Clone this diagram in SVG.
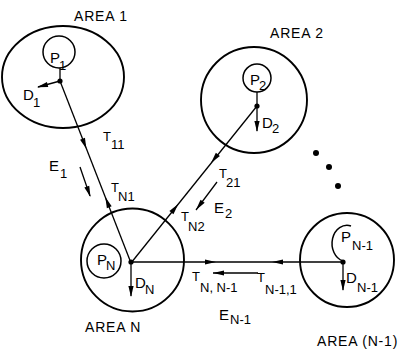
<svg xmlns="http://www.w3.org/2000/svg" xmlns:xlink="http://www.w3.org/1999/xlink" width="400" height="349" viewBox="0 0 400 349">
<style>
.area{fill:none;stroke:#000;stroke-width:1.9}
.sm{fill:none;stroke:#000;stroke-width:1.5}
.ln{fill:none;stroke:#000;stroke-width:1.3}
.dot{fill:#000}
text{font-family:"Liberation Sans","DejaVu Sans",Arial,sans-serif;fill:#000}
.lab{font-size:15px}
.big{font-size:14px;letter-spacing:0.8px}
.t{font-size:13px}
.s{font-size:13px}
</style>
<defs>
<path id="ah" d="M0,0 L-11,-2.6 L-11,2.6 Z" fill="#000"/>
</defs>
<rect width="400" height="349" fill="#fff"/>
<g id="connectors">
<line class="ln" x1="60" y1="81" x2="131" y2="263"/>
<use xlink:href="#ah" transform="translate(86.5,149) rotate(68.7)"/>
<use xlink:href="#ah" transform="translate(105.3,197) rotate(248.7)"/>
<line class="ln" x1="131" y1="263" x2="257" y2="106"/>
<use xlink:href="#ah" transform="translate(178.3,204) rotate(-51.3)"/>
<use xlink:href="#ah" transform="translate(211,163) rotate(128.7)"/>
<line class="ln" x1="131" y1="262" x2="343" y2="262"/>
<use xlink:href="#ah" transform="translate(216,262) rotate(0)"/>
<use xlink:href="#ah" transform="translate(272,262) rotate(180)"/>
<line class="ln" x1="80" y1="167" x2="90" y2="196"/>
<use xlink:href="#ah" transform="translate(90.5,197) rotate(70.3)"/>
<line class="ln" x1="217" y1="182" x2="196" y2="210"/>
<use xlink:href="#ah" transform="translate(196,210) rotate(126.9)"/>
<line class="ln" x1="258" y1="273" x2="213" y2="273"/>
<use xlink:href="#ah" transform="translate(213,273) rotate(180)"/>
</g>
<g id="area1">
<ellipse class="area" cx="63" cy="77" rx="61" ry="51"/>
<circle class="sm" cx="59" cy="52" r="16"/>
<line class="ln" x1="60" y1="68" x2="60" y2="81"/>
<circle class="dot" cx="60" cy="81" r="2.6"/>
<line class="ln" x1="60" y1="81" x2="38" y2="87"/>
<use xlink:href="#ah" transform="translate(37,87.3) rotate(164.7)"/>
<text class="lab" x="50" y="63">P</text><text class="s" x="59" y="70">1</text>
<text class="lab" x="23" y="100">D</text><text class="s" x="33" y="107">1</text>
<text class="big" x="74" y="21">AREA 1</text>
<text class="t" x="103" y="141">T</text><text class="s" x="111" y="149">11</text>
<text class="lab" x="49" y="171">E</text><text class="s" x="60" y="178">1</text>
<text class="t" x="111" y="192">T</text><text class="s" x="118" y="201">N1</text>
</g>
<g id="area2">
<circle class="area" cx="254" cy="100" r="53"/>
<circle class="sm" cx="257" cy="78" r="14"/>
<line class="ln" x1="257" y1="92" x2="257" y2="106"/>
<circle class="dot" cx="257" cy="106" r="2.6"/>
<line class="ln" x1="257" y1="106" x2="257" y2="131"/>
<use xlink:href="#ah" transform="translate(257,132) rotate(90)"/>
<text class="lab" x="250" y="85">P</text><text class="s" x="259" y="90">2</text>
<text class="lab" x="262" y="128">D</text><text class="s" x="272" y="133">2</text>
<text class="big" x="270" y="38">AREA 2</text>
<text class="t" x="219" y="178">T</text><text class="s" x="226" y="187">21</text>
<text class="lab" x="214" y="213">E</text><text class="s" x="225" y="218">2</text>
<text class="t" x="181" y="221">T</text><text class="s" x="188" y="231">N2</text>
</g>
<g id="areaN">
<circle class="area" cx="132.5" cy="260" r="51.5"/>
<circle class="sm" cx="104" cy="261" r="17"/>
<circle class="dot" cx="131" cy="262" r="2.6"/>
<line class="ln" x1="131" y1="262" x2="131" y2="296"/>
<use xlink:href="#ah" transform="translate(131,297) rotate(90)"/>
<text class="lab" x="97" y="265">P</text><text class="s" x="106" y="270">N</text>
<text class="lab" x="135" y="288">D</text><text class="s" x="145" y="294">N</text>
<text class="big" x="85" y="332">AREA N</text>
<text class="t" x="192" y="281">T</text><text class="s" x="200" y="292">N, N-1</text>
<text class="t" x="257" y="282">T</text><text class="s" x="265" y="294">N-1,1</text>
<text class="lab" x="219" y="320">E</text><text class="s" x="230" y="324">N-1</text>
</g>
<g id="ellipsis">
<circle class="dot" cx="316" cy="153" r="3"/>
<circle class="dot" cx="329" cy="167" r="3"/>
<circle class="dot" cx="338" cy="186" r="3"/>
</g>
<g id="areaN1">
<circle class="area" cx="347" cy="260" r="47"/>
<path class="sm" d="M351,226 A14,17 0 1,0 343,261"/>
<circle class="dot" cx="343" cy="262" r="2.6"/>
<line class="ln" x1="343" y1="262" x2="343" y2="290"/>
<use xlink:href="#ah" transform="translate(343,291) rotate(90)"/>
<text class="lab" x="341" y="242">P</text><text class="s" x="352" y="250">N-1</text>
<text class="lab" x="346" y="283">D</text><text class="s" x="357" y="292">N-1</text>
<text class="big" x="317" y="346">AREA (N-1)</text>
</g>
</svg>
